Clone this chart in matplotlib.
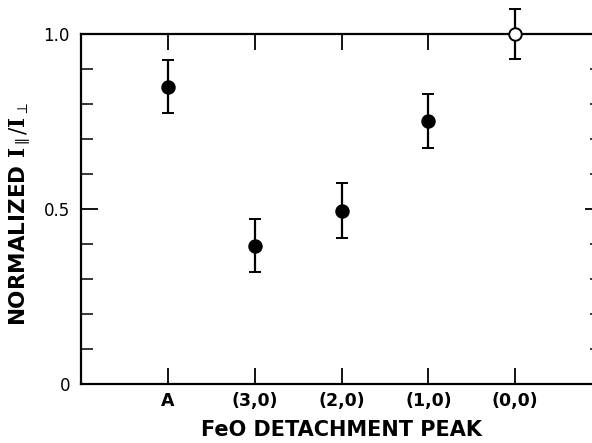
import matplotlib
matplotlib.use("Agg")
import matplotlib.pyplot as plt
from matplotlib.ticker import MultipleLocator, FixedLocator, NullFormatter

plt.rcParams["mathtext.fontset"] = "dejavuserif"

# data
peaks = ["A", "(3,0)", "(2,0)", "(1,0)", "(0,0)"]
ratio = [0.85, 0.395, 0.495, 0.752, 1.0]
err = [0.077, 0.076, 0.078, 0.077, 0.072]
filled = [True, True, True, True, False]

fig = plt.figure(figsize=(5.92, 4.43), dpi=100)
# right spine sits just past the image edge, as in the original scan
ax = fig.add_axes([81 / 592, 59 / 443, 521 / 592, 350 / 443])

xs = list(range(1, len(peaks) + 1))
for x, y, e, f in zip(xs, ratio, err, filled):
    eb = ax.errorbar(x, y, yerr=e, fmt="o", color="black", ecolor="black",
                     elinewidth=1.6, capsize=4.5, capthick=1.6,
                     markersize=9, markeredgewidth=1.4,
                     markerfacecolor="black" if f else "white",
                     markeredgecolor="black", zorder=3)
    for art in eb.get_children():
        art.set_clip_on(False)

ax.set_xlim(0, 6)
ax.set_ylim(0, 1.0)

for s in ax.spines.values():
    s.set_linewidth(1.6)

ax.xaxis.set_major_locator(FixedLocator(xs))
ax.set_xticklabels(peaks, fontsize=12.5, fontweight="bold")
ax.tick_params(axis="x", direction="in", length=11.5, width=1.3,
               top=True, bottom=True, pad=6)

ax.yaxis.set_major_locator(FixedLocator([0, 0.5, 1.0]))
ax.set_yticklabels(["0", "0.5", "1.0"], fontsize=12)
ax.yaxis.set_minor_locator(MultipleLocator(0.1))
ax.yaxis.set_minor_formatter(NullFormatter())
ax.tick_params(axis="y", which="major", direction="in", length=12.5,
               width=1.3, left=True, right=True, pad=8)
ax.tick_params(axis="y", which="minor", direction="in", length=8.5,
               width=1.1, left=True, right=True)

ax.set_xlabel("FeO DETACHMENT PEAK", fontsize=15, fontweight="bold",
              labelpad=7)
fig.text(20 / 592, 1 - 214 / 443,
         r"NORMALIZED $\mathbf{I}_{\parallel}/\mathbf{I}_{\perp}$",
         rotation=90, ha="center", va="center", fontsize=15.5,
         fontweight="bold")

fig.savefig("out.png", dpi=100)
